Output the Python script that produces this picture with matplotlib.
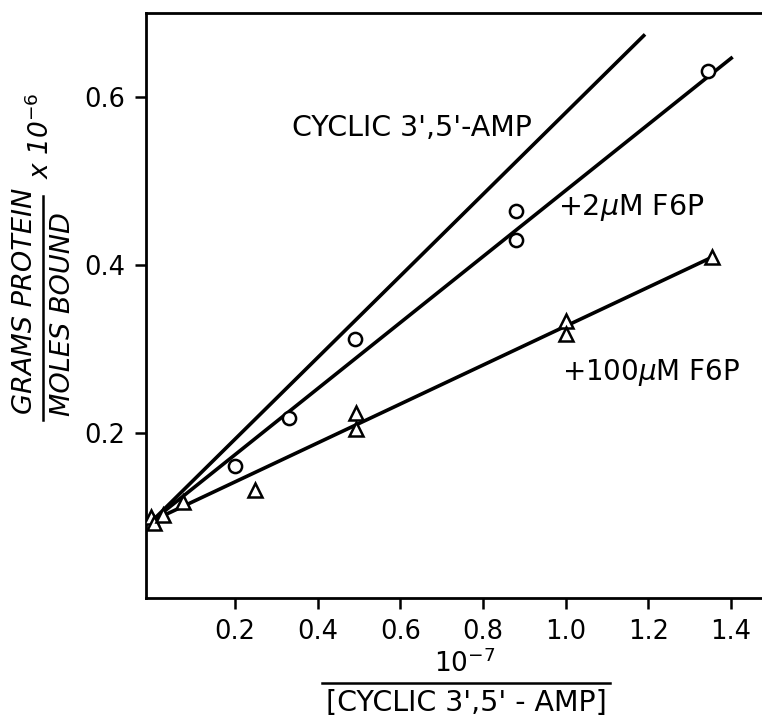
import matplotlib
matplotlib.use('Agg')
import matplotlib.pyplot as plt
from matplotlib.lines import Line2D

# ---- data ----
# +2 uM F6P (open circles)
circ_x = [0.20, 0.33, 0.49, 0.88, 0.88, 1.345]
circ_y = [0.160, 0.218, 0.312, 0.465, 0.430, 0.631]
# +100 uM F6P (open triangles)
tri_x = [-0.004, 0.004, 0.027, 0.075, 0.248, 0.494, 0.494, 1.0, 1.0, 1.353]
tri_y = [0.100, 0.092, 0.102, 0.118, 0.132, 0.223, 0.204, 0.333, 0.318, 0.410]

# fitted lines (endpoints)
amp_line_x = [0.0, 1.192]
amp_line_y = [0.095, 0.675]
f2_line_x = [0.0, 1.404]
f2_line_y = [0.095, 0.648]
f100_line_x = [0.0, 1.357]
f100_line_y = [0.095, 0.410]

xticks = [0.2, 0.4, 0.6, 0.8, 1.0, 1.2, 1.4]
xticklabels = ['0.2', '0.4', '0.6', '0.8', '1.0', '1.2', '1.4']
yticks = [0.2, 0.4, 0.6]
yticklabels = ['0.2', '0.4', '0.6']

plt.rcParams['font.family'] = ['DejaVu Sans']

W, H = 762, 719
fig = plt.figure(figsize=(W / 100, H / 100), dpi=100)
ax = fig.add_axes([146 / W, 1 - 598 / H, (W - 146) / W, (598 - 13) / H])

lw = 2.6
ax.plot(amp_line_x, amp_line_y, color='black', lw=lw, solid_capstyle='butt')
ax.plot(f2_line_x, f2_line_y, color='black', lw=lw, solid_capstyle='butt')
ax.plot(f100_line_x, f100_line_y, color='black', lw=lw, solid_capstyle='butt')

ax.plot(circ_x, circ_y, linestyle='none', marker='o', markersize=9.5,
        markerfacecolor='white', markeredgecolor='black', markeredgewidth=1.8,
        zorder=3)
ax.plot(tri_x, tri_y, linestyle='none', marker='^', markersize=9.5,
        markerfacecolor='white', markeredgecolor='black', markeredgewidth=1.8,
        zorder=3)

ax.set_xlim(-0.0152, 1.475)
ax.set_ylim(0.003, 0.7005)

ax.set_xticks(xticks)
ax.set_xticklabels(xticklabels)
ax.set_yticks(yticks)
ax.set_yticklabels(yticklabels)
ax.tick_params(axis='both', direction='out', length=8, width=1.8,
               labelsize=18.5, pad=7, color='black')

for side in ['left', 'bottom', 'top']:
    ax.spines[side].set_linewidth(2.0)
ax.spines['right'].set_visible(False)

# curve labels
ax.text(0.338, 0.563, "CYCLIC 3',5'-AMP", fontsize=20.5, ha='left', va='center')
ax.text(0.982, 0.468, r"+2$\mu$M F6P", fontsize=20.5, ha='left', va='center')
ax.text(0.991, 0.272, r"+100$\mu$M F6P", fontsize=20, ha='left', va='center')

# y axis label as a fraction
def fx(px):
    return px / W

def fy(py):
    return 1 - py / H

fig.text(fx(25), fy(301), "GRAMS PROTEIN", rotation=90, style='italic',
         fontsize=19.5, ha='center', va='center')
fig.text(fx(63), fy(314), "MOLES BOUND", rotation=90, style='italic',
         fontsize=19.5, ha='center', va='center')
fig.add_artist(Line2D([fx(43), fx(43)], [fy(196), fy(420)], color='black', lw=1.8))
fig.text(fx(41), fy(136), r"x 10$^{-6}$", rotation=90, style='italic',
         fontsize=19, ha='center', va='center')

# x axis label as a fraction
fig.text(fx(465), fy(664), r"10$^{-7}$", fontsize=19, ha='center', va='center')
fig.add_artist(Line2D([fx(322), fx(610)], [fy(683), fy(683)], color='black', lw=1.8))
fig.text(fx(466), fy(703), "[CYCLIC 3',5' - AMP]", fontsize=20.5,
         ha='center', va='center')

fig.savefig('out.png', dpi=100)
